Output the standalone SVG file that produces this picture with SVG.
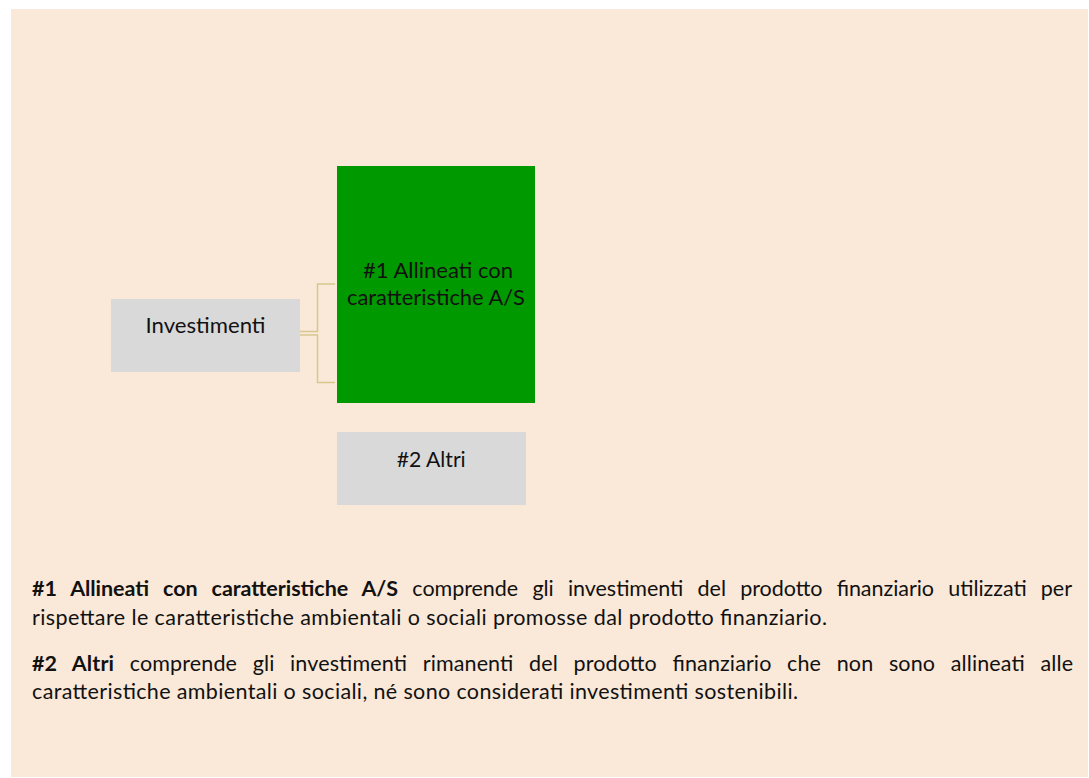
<svg xmlns="http://www.w3.org/2000/svg" width="1089" height="778" viewBox="0 0 1089 778">
<style>
text{font-family:Lato,"Open Sans","Liberation Sans",sans-serif;fill:#111;}
.lbl{font-size:21px;text-anchor:middle;}
.body{font-size:21.5px;}
.b{font-weight:bold;}
.conn{fill:none;stroke:#D6C88E;stroke-width:1.5;}
.gray{fill:#D9D9D9;}
</style>
<rect x="11" y="9" width="1077" height="768" fill="#FAE8D8"/>
<g id="connectors">
<path class="conn" d="M300,331.5 H317.5 V284 H335"/>
<path class="conn" d="M300,335 H317.5 V382.5 H335"/>
</g>
<g id="investimenti">
<rect class="gray" x="111" y="299" width="189" height="73"/>
<text class="lbl" x="205.5" y="333" textLength="120" lengthAdjust="spacingAndGlyphs">Investimenti</text>
</g>
<g id="allineati">
<rect x="337" y="166" width="198" height="237" fill="#009900"/>
<text class="lbl" x="438" y="278" textLength="150" lengthAdjust="spacingAndGlyphs">#1 Allineati con</text>
<text class="lbl" x="436" y="305" textLength="178" lengthAdjust="spacingAndGlyphs">caratteristiche A/S</text>
</g>
<g id="altri">
<rect class="gray" x="337" y="432" width="189" height="73"/>
<text class="lbl" x="431.2" y="467" textLength="69" lengthAdjust="spacingAndGlyphs">#2 Altri</text>
</g>
<g id="legend">
<text class="body" x="32" y="596" word-spacing="8.8" textLength="1040" lengthAdjust="spacing"><tspan class="b">#1 Allineati con caratteristiche A/S</tspan> comprende gli investimenti del prodotto finanziario utilizzati per</text>
<text class="body" x="32" y="625" textLength="795" lengthAdjust="spacing">rispettare le caratteristiche ambientali o sociali promosse dal prodotto finanziario.</text>
<text class="body" x="32" y="671" word-spacing="10" textLength="1041" lengthAdjust="spacing"><tspan class="b">#2 Altri</tspan> comprende gli investimenti rimanenti del prodotto finanziario che non sono allineati alle</text>
<text class="body" x="32" y="699" textLength="766" lengthAdjust="spacing">caratteristiche ambientali o sociali, né sono considerati investimenti sostenibili.</text>
</g>
</svg>
